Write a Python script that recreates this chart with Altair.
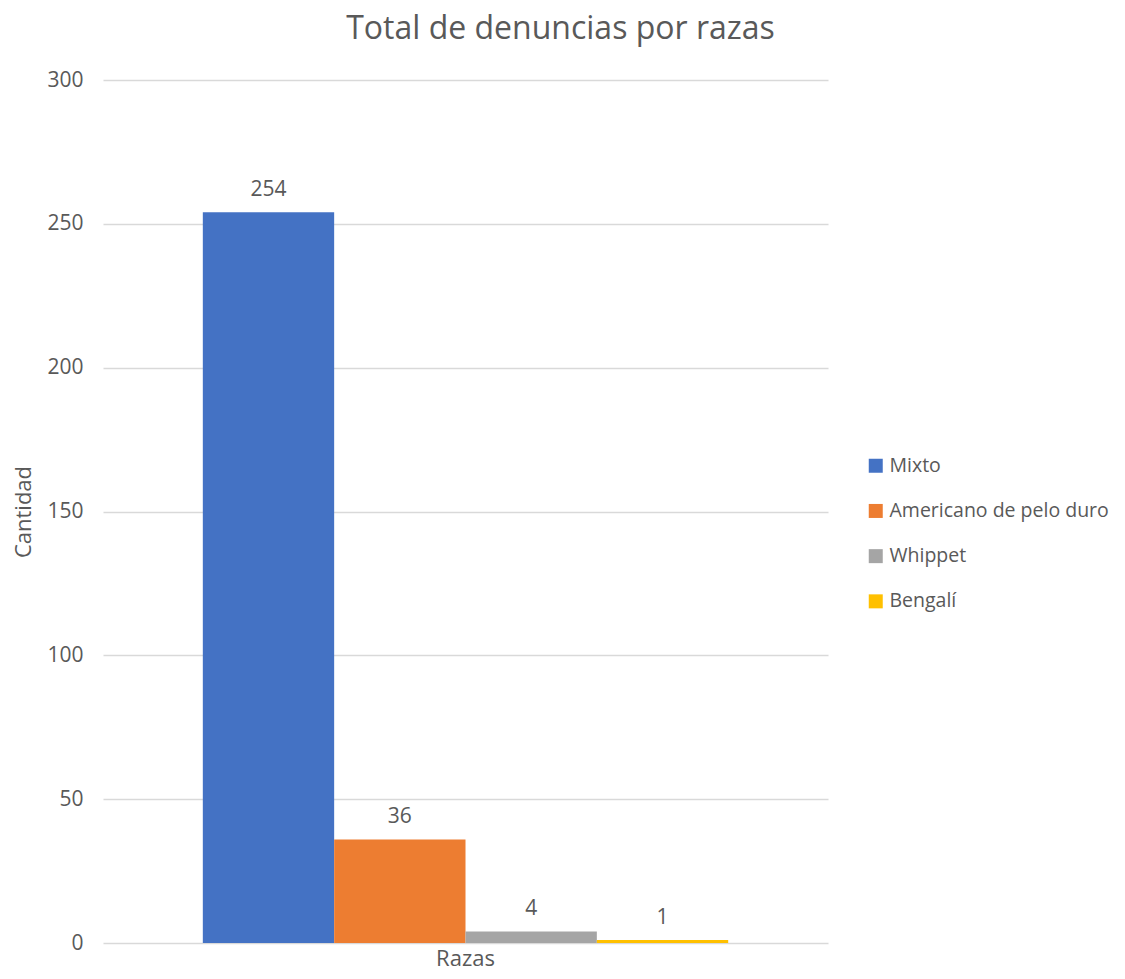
import altair as alt
import pandas as pd

razas = ["Mixto", "Americano de pelo duro", "Whippet", "Bengalí"]
cantidades = [254, 36, 4, 1]
colores = ["#4472C4", "#ED7D31", "#A5A5A5", "#FFC000"]
grupo = "Razas"

df = pd.DataFrame({"raza": razas, "cantidad": cantidades, "grupo": [grupo] * len(razas)})

FONT = "Open Sans"
GRAY = "#595959"

x_enc = alt.X("grupo:N", title=None,
              scale=alt.Scale(paddingOuter=0.19, paddingInner=0),
              axis=alt.Axis(labelAngle=0, labelFontSize=22, labelColor=GRAY, labelFont=FONT,
                            ticks=False, domain=False, labelPadding=5))
xo_enc = alt.XOffset("raza:N", sort=razas, scale=alt.Scale(paddingInner=0, paddingOuter=0))
y_enc = alt.Y("cantidad:Q", title="Cantidad",
              scale=alt.Scale(domain=[0, 300], nice=False),
              axis=alt.Axis(values=[0, 50, 100, 150, 200, 250, 300], labelFontSize=21,
                            labelColor=GRAY, labelFont=FONT, ticks=False, domain=False,
                            labelPadding=20, gridColor="#D9D9D9", gridWidth=1.3,
                            titleFontSize=22, titleColor=GRAY, titleFont=FONT,
                            titleFontWeight="normal", titlePadding=11))

bars = alt.Chart(df).mark_bar().encode(
    x=x_enc, xOffset=xo_enc, y=y_enc,
    color=alt.Color("raza:N", sort=razas, scale=alt.Scale(domain=razas, range=colores),
                    legend=alt.Legend(title=None, orient="none", legendX=763, legendY=376,
                                      symbolType="square", symbolSize=196, symbolStrokeWidth=0,
                                      labelFontSize=19.5, labelColor=GRAY, labelFont=FONT,
                                      labelLimit=400, rowPadding=24.2, labelOffset=4)),
)

labels = alt.Chart(df).mark_text(baseline="bottom", dy=-12, fontSize=21, color=GRAY, font=FONT).encode(
    x=x_enc, xOffset=xo_enc, y=alt.Y("cantidad:Q"), text=alt.Text("cantidad:Q"),
)

chart = alt.layer(bars, labels).properties(
    width=725, height=863,
    title=alt.TitleParams("Total de denuncias por razas", fontSize=32, color=GRAY, font=FONT,
                          fontWeight="normal", anchor="middle", dx=95, offset=23),
    autosize=alt.AutoSizeParams(type="none"),
    padding={"left": 95, "top": 72, "right": 289, "bottom": 30},
).configure_view(stroke=None)

chart.save("out.html", embed_options={"renderer": "svg", "actions": False})
